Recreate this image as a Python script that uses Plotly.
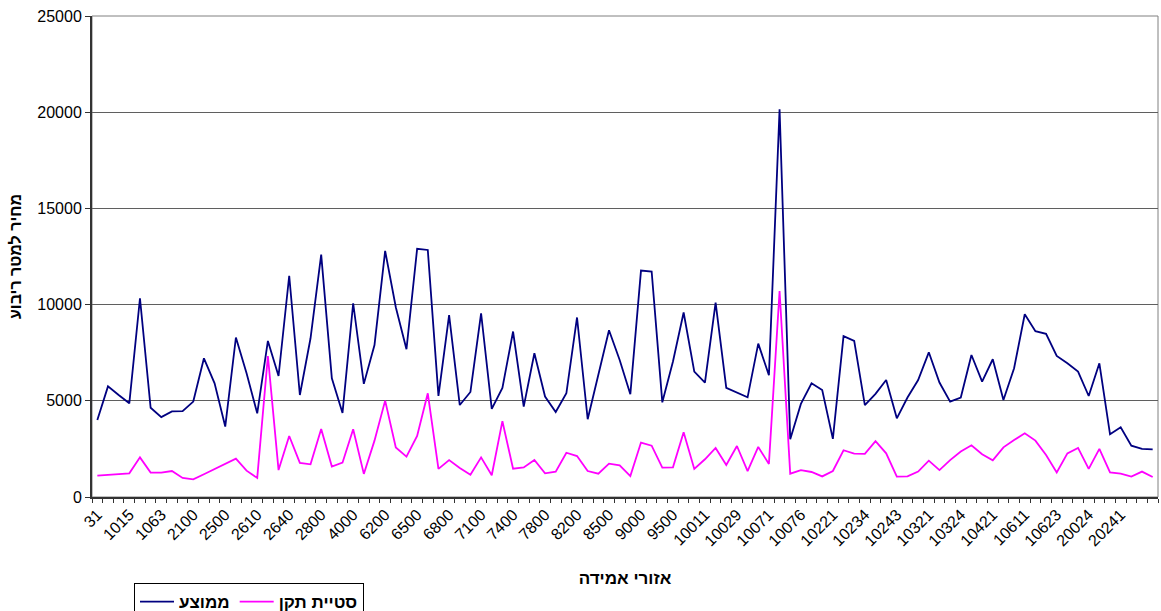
import plotly.graph_objects as go

# Average price per square metre and its standard deviation, by appraisal zone
zone_tick_labels = ["31", "1015", "1063", "2100", "2500", "2610", "2640", "2800", "4000",
                    "6200", "6500", "6800", "7100", "7400", "7800", "8200", "8500", "9000",
                    "9500", "10011", "10029", "10071", "10076", "10221", "10234", "10243",
                    "10321", "10324", "10421", "10611", "10623", "20024", "20241"]

avg_price = [4000, 5750, 5300, 4870, 10330, 4640, 4150, 4450, 4460, 4960,
             7210, 5910, 3660, 8290, 6430, 4350, 8110, 6290, 11500, 5300,
             8250, 12600, 6170, 4370, 10070, 5880, 7900, 12790, 9860, 7680,
             12900, 12840, 5250, 9450, 4780, 5460, 9550, 4580, 5670, 8600,
             4700, 7470, 5220, 4420, 5390, 9330, 4040, 6340, 8670, 7120,
             5340, 11770, 11720, 4920, 7040, 9590, 6520, 5950, 10100, 5670,
             5430, 5180, 7970, 6330, 20150, 3000, 4840, 5910, 5560, 3020,
             8360, 8110, 4780, 5360, 6080, 4090, 5170, 6080, 7520, 5950,
             4960, 5170, 7380, 6000, 7160, 5040, 6690, 9500, 8620, 8480,
             7330, 6950, 6520, 5250, 6950, 3260, 3620, 2670, 2500, 2480]

std_price = [1110, 1160, 1200, 1230, 2060, 1270, 1270, 1350, 990, 920,
             1180, 1460, 1730, 1990, 1370, 990, 7330, 1400, 3170, 1770,
             1700, 3540, 1580, 1785, 3520, 1200, 2930, 5010, 2570, 2100,
             3170, 5390, 1460, 1920, 1510, 1160, 2060, 1130, 3940, 1470,
             1540, 1920, 1230, 1320, 2300, 2130, 1350, 1210, 1730, 1650,
             1090, 2830, 2670, 1530, 1540, 3360, 1460, 1960, 2550, 1660,
             2650, 1350, 2600, 1720, 10710, 1210, 1400, 1300, 1070, 1350,
             2430, 2250, 2240, 2900, 2270, 1060, 1070, 1320, 1890, 1400,
             1920, 2360, 2690, 2220, 1910, 2580, 2960, 3310, 2930, 2180,
             1280, 2270, 2550, 1460, 2500, 1280, 1210, 1060, 1320, 1040]

LABEL_STEP = 3
x_idx = list(range(len(avg_price)))
tick_pos = list(range(0, len(avg_price), LABEL_STEP))[:len(zone_tick_labels)]

FONT = "Arial, Liberation Sans, DejaVu Sans, sans-serif"

fig = go.Figure()
fig.add_trace(go.Scatter(x=x_idx, y=avg_price, mode="lines", name="ממוצע",
                         line=dict(color="#000080", width=1.8)))
fig.add_trace(go.Scatter(x=x_idx, y=std_price, mode="lines", name="סטיית תקן",
                         line=dict(color="#FF00FF", width=1.8)))

fig.update_layout(
    width=1161, height=611,
    margin=dict(l=92, r=3, t=16, b=114, autoexpand=False),
    paper_bgcolor="white", plot_bgcolor="white",
    font=dict(family=FONT, size=16, color="black"),
    showlegend=True,
    legend=dict(orientation="h", x=0.0394, xanchor="left", y=-0.179, yanchor="top",
                bordercolor="black", borderwidth=1, bgcolor="white",
                font=dict(family=FONT, size=17, color="black", weight="bold"),
                itemwidth=34, traceorder="normal"),
    shapes=[dict(type="rect", xref="paper", yref="paper", x0=0, x1=1, y0=0, y1=1,
                 line=dict(color="#808080", width=1), layer="below")],
)

fig.update_xaxes(
    automargin=False,
    range=[-0.5, len(avg_price) - 0.5],
    tickmode="array", tickvals=tick_pos, ticktext=zone_tick_labels,
    tickangle=-45, ticks="", tickfont=dict(family=FONT, size=16),
    showgrid=False, zeroline=False,
    showline=True, linecolor="#333333", linewidth=2,
    minor=dict(tickmode="linear", tick0=-0.5, dtick=1, ticks="outside",
               ticklen=4, tickcolor="#333333", tickwidth=1, showgrid=False),
    title=dict(text="אזורי אמידה", font=dict(family=FONT, size=17, weight="bold"),
               standoff=24),
)

fig.update_yaxes(
    automargin=False,
    range=[0, 25000], tickmode="linear", tick0=0, dtick=5000, tickformat="d",
    ticks="outside", ticklen=5, tickcolor="#333333",
    tickfont=dict(family=FONT, size=16),
    showgrid=True, gridcolor="#5f5f5f", gridwidth=1, zeroline=False,
    showline=True, linecolor="#333333", linewidth=2,
    title=dict(text="מחיר למטר ריבוע", font=dict(family=FONT, size=16, weight="bold"),
               standoff=12),
)

fig.write_html("out.html")
